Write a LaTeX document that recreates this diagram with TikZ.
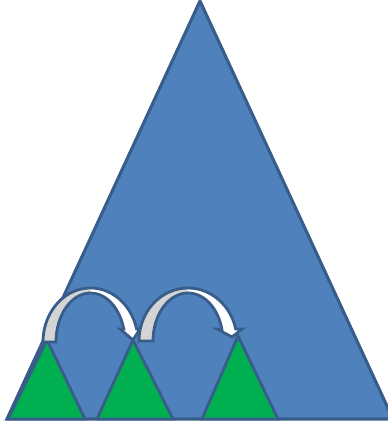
\documentclass[tikz,border=0pt]{standalone}
\usepackage{tikz}

\definecolor{treeblue}{HTML}{4F81BD}
\definecolor{edgeblue}{HTML}{385D8A}
\definecolor{subgreen}{HTML}{00B050}
\definecolor{backgrey}{HTML}{D4D4D4}

\begin{document}
\begin{tikzpicture}[x=0.25mm, y=0.25mm]
    % styles
    \tikzstyle{bigtri}=[fill=treeblue, draw=edgeblue, line width=2.2pt]
    \tikzstyle{subtri}=[fill=subgreen, draw=edgeblue, line width=2pt]
    \tikzstyle{hopline}=[draw=edgeblue, line width=2pt]

    \useasboundingbox (0,0) rectangle (388,428);
    \clip (0,0) rectangle (388,428);

    % the whole tree
    \coordinate (top) at (200,427);
    \draw[bigtri] (top) -- (393,9) -- (7,9) -- cycle;

    % subtrees along the bottom
    \coordinate (s1) at (47,88);
    \coordinate (s2) at (133,88);
    \coordinate (s3) at (238,92);
    \draw[subtri] (s1) -- (85,9) -- (8,9) -- cycle;
    \draw[subtri] (s2) -- (173,9) -- (97,9) -- cycle;
    \draw[subtri] (s3) -- (278,9) -- (202,9) -- cycle;

    % first hop (s1 -> s2)
    \fill[white] (43,86) -- (56,86)
        arc[start angle=180, end angle=15.4, x radius=34.5, y radius=49]
        -- (120,99) -- (s2) -- (140,99) -- (136.6,99)
        arc[start angle=13.9, end angle=180, x radius=47.5, y radius=54] -- cycle;
    % back face in grey
    \fill[backgrey] (43,86) -- (56,86)
        arc[start angle=180, end angle=90, x radius=34.5, y radius=49]
        -- (90.5,140)
        arc[start angle=90, end angle=180, x radius=47.5, y radius=54] -- cycle;
    \draw[hopline] (43,86) -- (56,86)
        arc[start angle=180, end angle=15.4, x radius=34.5, y radius=49]
        -- (120,99) -- (s2) -- (140,99) -- (136.6,99)
        arc[start angle=13.9, end angle=180, x radius=47.5, y radius=54] -- cycle;

    % second hop (s2 -> s3)
    \fill[white] (139,87) -- (153,87)
        arc[start angle=180, end angle=14.5, x radius=35, y radius=48]
        -- (217,99) -- (232,91) -- (242,99) -- (235.7,99)
        arc[start angle=13.1, end angle=180, x radius=49, y radius=53] -- cycle;
    % back face in grey
    \fill[backgrey] (139,87) -- (153,87)
        arc[start angle=180, end angle=90, x radius=35, y radius=48]
        -- (188,140)
        arc[start angle=90, end angle=180, x radius=49, y radius=53] -- cycle;
    \draw[hopline] (139,87) -- (153,87)
        arc[start angle=180, end angle=14.5, x radius=35, y radius=48]
        -- (217,99) -- (232,91) -- (242,99) -- (235.7,99)
        arc[start angle=13.1, end angle=180, x radius=49, y radius=53] -- cycle;
\end{tikzpicture}
\end{document}
